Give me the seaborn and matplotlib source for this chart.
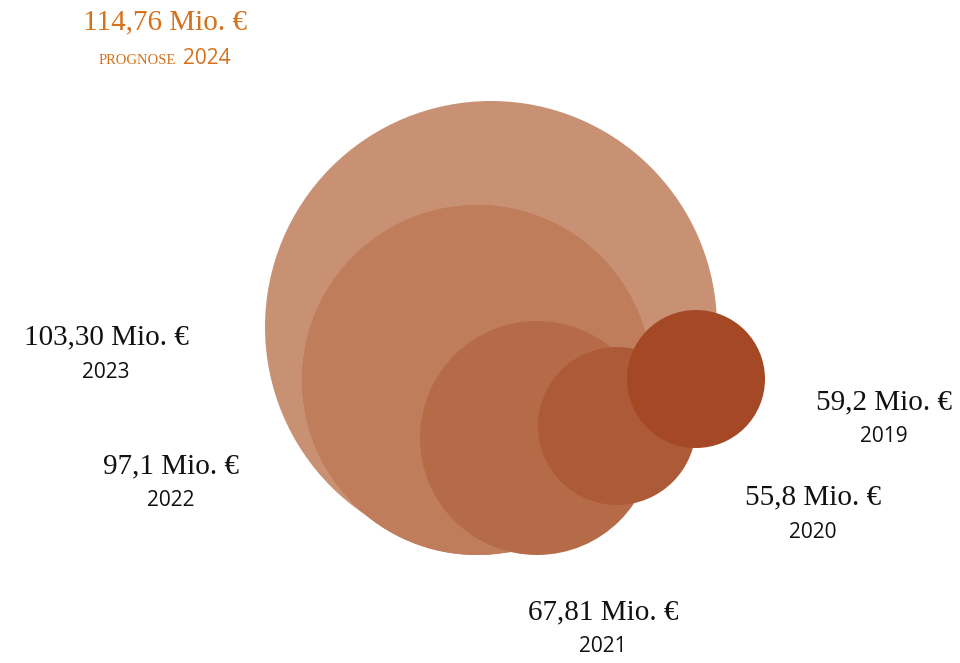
import numpy as np
import matplotlib.pyplot as plt
import seaborn as sns
import pandas as pd

# data
years = ["2024", "2023", "2022", "2021", "2020", "2019"]
values = [114.76, 103.30, 97.1, 67.81, 55.8, 59.2]
value_labels = ["114,76 Mio. €", "103,30 Mio. €", "97,1 Mio. €",
                "67,81 Mio. €", "55,8 Mio. €", "59,2 Mio. €"]

# layout (pixel positions of bubbles and labels)
bubble_x = [491, 477, 477, 537, 617, 696]
bubble_y = [327, 380, 380, 438, 426, 379]
bubble_r = [226, 175, 175, 117, 79, 69]
label_x = [165, 106, 171, 603, 813, 884]
label_y = [22, 337, 466, 612, 497, 402]
colors = {"2024": "#C99174", "2023": "#C07D5C", "2022": "#C07D5C",
          "2021": "#B66B48", "2020": "#AD5A38", "2019": "#A44826"}
orange = "#D5711B"

dpi = 100
df = pd.DataFrame({"year": years, "value": values, "x": bubble_x, "y": bubble_y,
                   "r": bubble_r})
df["s"] = (2 * df["r"] * 72 / dpi) ** 2

sns.set_style("white")
fig = plt.figure(figsize=(9.6, 6.63), dpi=dpi)
ax = fig.add_axes([0, 0, 1, 1])

sns.scatterplot(data=df, x="x", y="y", hue="year", palette=colors, s=df["s"],
                linewidth=0, alpha=1, legend=False, ax=ax)

ax.set_xlim(0, 960)
ax.set_ylim(663, 0)
ax.axis("off")

val_font = "Liberation Serif"
year_font = "Open Sans"
for i, yr in enumerate(years):
    if yr == "2024":
        ax.text(label_x[i], label_y[i], value_labels[i], ha="center", va="center",
                fontsize=21, family=val_font, color=orange)
        ax.text(176, 60, "PROGNOSE", ha="right", va="center", fontsize=10.5,
                family=val_font, color=orange)
        ax.text(183, 58, yr, ha="left", va="center", fontsize=15,
                family=year_font, color=orange)
    else:
        ax.text(label_x[i], label_y[i], value_labels[i], ha="center", va="center",
                fontsize=21, family=val_font, color="#111111")
        ax.text(label_x[i], label_y[i] + 35, yr, ha="center", va="center",
                fontsize=15, family=year_font, color="#111111")

plt.savefig("out.png", dpi=dpi)
